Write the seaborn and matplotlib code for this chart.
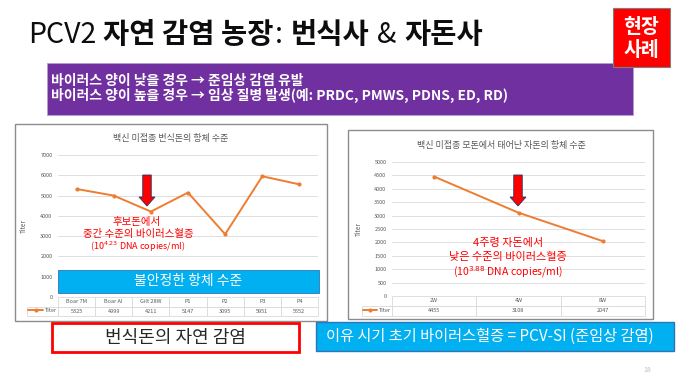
import pandas as pd
import matplotlib
matplotlib.use("Agg")
import matplotlib.pyplot as plt
import seaborn as sns
from matplotlib.patches import Rectangle, FancyArrow
from matplotlib.transforms import IdentityTransform

# Data
cats_breeder = ['Boar 7M', 'Boar AI', 'Gilt 28W', 'P1', 'P2', 'P3', 'P4']
titer_breeder = [5325, 4999, 4211, 5147, 3095, 5951, 5552]
cats_piglet = ['2W', '4W', '8W']
titer_piglet = [4455, 3108, 2047]

W, H = 680, 382
ORANGE = '#ED7D31'
GREY = '#595959'
RED = '#FF0000'
BLUE = '#00B0F0'

sns.set_theme(style='white')
plt.rcParams['font.family'] = ['Noto Sans CJK KR', 'DejaVu Sans']
plt.rcParams['mathtext.fontset'] = 'dejavusans'

fig = plt.figure(figsize=(W / 100, H / 100), dpi=100)
fig.patch.set_facecolor('white')


def fx(x):
    return x / W


def fy(y):
    return 1 - y / H


def box(x0, y0, x1, y1, **kw):
    r = Rectangle((fx(x0), fy(y1)), fx(x1) - fx(x0), fy(y0) - fy(y1),
                  transform=fig.transFigure, **kw)
    fig.add_artist(r)
    return r


# Title (mixed weights)
renderer = fig.canvas.get_renderer()
segs = [('PCV2', 'normal', 7), ('자연 감염 농장', 'bold', 1), (':', 'normal', 8),
        ('번식사', 'bold', 8), ('&', 'normal', 8), ('자돈사', 'bold', 0)]
xpos = 28
for txt, wt, gap in segs:
    t = fig.text(fx(xpos), fy(35), txt, fontsize=20.5, fontweight=wt,
                 va='center', ha='left', color='#0D0D0D')
    bb = t.get_window_extent(renderer)
    xpos += bb.width + gap

# Red tag
box(613, 8, 670, 67, facecolor=RED, edgecolor='#7F7F7F', lw=0.8, zorder=2)
fig.text(fx(641.5), fy(27), '현장', fontsize=14, fontweight='bold', color='white',
         ha='center', va='center', zorder=3)
fig.text(fx(641.5), fy(50), '사례', fontsize=14, fontweight='bold', color='white',
         ha='center', va='center', zorder=3)

# Purple box
box(47, 63, 633, 115, facecolor='#7030A0', edgecolor='#B4A0D0', lw=0.6, zorder=1)
fig.text(fx(51), fy(88.5), '바이러스 양이 낮을 경우 → 준임상 감염 유발\n'
         '바이러스 양이 높을 경우 → 임상 질병 발생(예: PRDC, PMWS, PDNS, ED, RD)',
         fontsize=10, fontweight='bold', color='white', ha='left', va='center',
         linespacing=0.95, zorder=3)

# Chart frames
box(15, 124, 327, 321, facecolor='white', edgecolor='#8C8C8C', lw=1.0, zorder=-1)
box(348, 130, 653, 319, facecolor='white', edgecolor='#8C8C8C', lw=1.0, zorder=-1)


def draw_chart(ax, cats, vals, ymax, step, tbl_h, lab_w, title, title_xy):
    n = len(cats)
    df = pd.DataFrame({'cat': cats, 'Titer': vals})
    sns.lineplot(data=df, x='cat', y='Titer', ax=ax, color=ORANGE, marker='o',
                 markersize=3, markeredgewidth=0, linewidth=1.4, sort=False, label='Titer')
    ax.set_facecolor('none')
    ax.set_xlim(-0.5, n - 0.5)
    ax.set_ylim(0, ymax)
    ax.set_yticks(range(0, ymax + 1, step))
    ax.grid(axis='y', color='#D9D9D9', lw=0.6)
    ax.grid(axis='x', visible=False)
    ax.set_xticks(range(n))
    ax.set_xticklabels([])
    ax.set_xlabel('')
    ax.tick_params(axis='both', length=0, labelsize=4, labelcolor=GREY, pad=4)
    ax.set_ylabel('Titer', fontsize=4.5, color=GREY)
    ax.yaxis.set_label_coords(-0.115, 0.5)
    for s in ax.spines.values():
        s.set_visible(False)
    # data table under the plot
    cell_text = [[''] + cats, [''] + [str(v) for v in vals]]
    tbl = ax.table(cellText=cell_text, colWidths=[lab_w] + [1.0 / n] * n,
                   bbox=[-lab_w, -tbl_h, 1 + lab_w, tbl_h], cellLoc='center')
    tbl.auto_set_font_size(False)
    for (r, c), cell in tbl.get_celld().items():
        cell.set_edgecolor('#D9D9D9')
        cell.set_linewidth(0.6)
        cell.get_text().set_fontsize(4)
        cell.get_text().set_color(GREY)
        if r == 0 and c == 0:
            cell.visible_edges = ''
    ax.legend(loc='center', bbox_to_anchor=(-lab_w / 2, -tbl_h * 0.73), frameon=False,
              fontsize=4, handlelength=2.6, handletextpad=0.3, borderpad=0,
              labelcolor=GREY)
    fig.text(fx(title_xy[0]), fy(title_xy[1]), title, fontsize=6.5, color=GREY,
             ha='center', va='center')


ax1 = fig.add_axes([fx(58), fy(297), (318 - 58) / W, (297 - 155) / H])
draw_chart(ax1, cats_breeder, titer_breeder, 7000, 1000, 19 / 142, 31 / 260,
           '백신 미접종 번식돈의 항체 수준', (171, 138))

ax2 = fig.add_axes([fx(392), fy(296), (645 - 392) / W, (296 - 162) / H])
draw_chart(ax2, cats_piglet, titer_piglet, 5000, 500, 20 / 134, 30 / 253,
           '백신 미접종 모돈에서 태어난 자돈의 항체 수준', (501, 145))

# Red arrows
for xc in (147, 518):
    fig.add_artist(FancyArrow(xc, H - 175, 0, -31, width=8.5, head_width=16,
                              head_length=9, length_includes_head=True,
                              facecolor=RED, edgecolor='#203864', lw=0.6,
                              transform=IdentityTransform(), zorder=4))

# Red annotations
fig.text(fx(137), fy(222), '후보돈에서', fontsize=7.5, color=RED, ha='center', va='center')
fig.text(fx(138), fy(234), '중간 수준의 바이러스혈증', fontsize=7.5, color=RED,
         ha='center', va='center')
fig.text(fx(138), fy(247), r'(10$^{4.23}$ DNA copies/ml)', fontsize=6.5, color=RED,
         ha='center', va='center')
fig.text(fx(508), fy(243), '4주령 자돈에서', fontsize=8, color=RED, ha='center', va='center')
fig.text(fx(508), fy(257), '낮은 수준의 바이러스혈증', fontsize=8, color=RED,
         ha='center', va='center')
fig.text(fx(508), fy(272), r'(10$^{3.88}$ DNA copies/ml)', fontsize=7.5, color=RED,
         ha='center', va='center')

# Blue bar in left chart
box(58, 270, 319, 293, facecolor=BLUE, edgecolor='#2E75B6', lw=0.6, zorder=3)
fig.text(fx(188.5), fy(281.5), '불안정한 항체 수준', fontsize=10, color='white',
         ha='center', va='center', zorder=4)

# Bottom boxes
box(52, 323, 299, 352, facecolor='white', edgecolor=RED, lw=2, zorder=3)
fig.text(fx(175.5), fy(337.5), '번식돈의 자연 감염', fontsize=13, color='#262626',
         ha='center', va='center', zorder=4)
box(316, 322, 674, 351, facecolor=BLUE, edgecolor='#2E75B6', lw=1, zorder=3)
fig.text(fx(490), fy(336.5), '이유 시기 초기 바이러스혈증 = PCV-SI (준임상 감염)', fontsize=11,
         color='white', ha='center', va='center', zorder=4)

fig.text(fx(647), fy(370), '18', fontsize=5, color='#BFBFBF', ha='center', va='center')

fig.savefig('out.png', dpi=100)
